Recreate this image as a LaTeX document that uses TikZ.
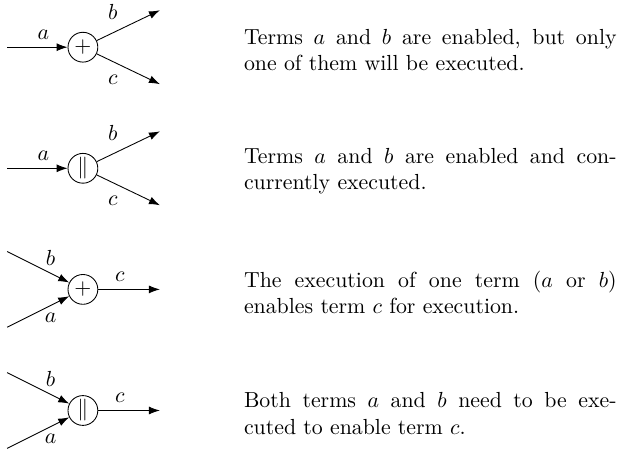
\documentclass[tikz,border=0pt]{standalone}
\usepackage{amsmath}
\usetikzlibrary{arrows.meta, positioning, calc}

\begin{document}
\begin{tikzpicture}[
  opnode/.style={circle, draw, minimum size=4.8mm, inner sep=0pt},
  flow/.style={-{Latex[length=5pt, width=3.6pt]}},
  desc/.style={text width=6cm, align=justify, inner sep=0pt}
]
  \useasboundingbox (0,0) rectangle (10,-7.3);
  % one term splits into b and c
  \foreach \r/\sym in {1/+, 2/\|}{
    \pgfmathsetmacro{\yc}{-0.76-1.95*(\r-1)}
    \node[opnode] (op\r) at (1.335,\yc) {$\sym$};
    \coordinate (in\r) at (0.113,\yc);
    \coordinate (outb\r) at ($(op\r)+(1.24,0.595)$);
    \coordinate (outc\r) at ($(op\r)+(1.24,-0.595)$);
    \draw[flow] (in\r) -- node[above, pos=0.6] {$a$} (op\r);
    \draw[flow] (op\r) -- node[above left, pos=0.45] {$b$} (outb\r);
    \draw[flow] (op\r) -- node[below left, pos=0.45] {$c$} (outc\r);
  }
  % a and b join into c
  \foreach \r/\sym in {3/+, 4/\|}{
    \pgfmathsetmacro{\yc}{-0.76-1.95*(\r-1)}
    \node[opnode] (op\r) at (1.335,\yc) {$\sym$};
    \coordinate (inb\r) at ($(op\r)+(-1.22,0.61)$);
    \coordinate (ina\r) at ($(op\r)+(-1.22,-0.61)$);
    \coordinate (out\r) at ($(op\r)+(1.24,0)$);
    \draw[flow] (inb\r) -- node[above, pos=0.7] {$b$} (op\r);
    \draw[flow] (ina\r) -- node[below, pos=0.7] {$a$} (op\r);
    \draw[flow] (op\r) -- node[above, pos=0.35] {$c$} (out\r);
  }
  % descriptions
  \node[desc, right=2.34cm of op1, yshift=-0.5mm] (desc1)
    {Terms $a$ and $b$ are enabled, but only\linebreak one of them will be executed.};
  \node[desc, right=2.34cm of op2, yshift=-0.5mm] (desc2)
    {Terms $a$ and $b$ are enabled and con-\linebreak currently executed.};
  \node[desc, right=2.34cm of op3, yshift=-0.5mm] (desc3)
    {The execution of one term ($a$ or $b$)\linebreak enables term $c$ for execution.};
  \node[desc, right=2.34cm of op4, yshift=-0.5mm] (desc4)
    {Both terms $a$ and $b$ need to be exe-\linebreak cuted to enable term $c$.};
\end{tikzpicture}
\end{document}
